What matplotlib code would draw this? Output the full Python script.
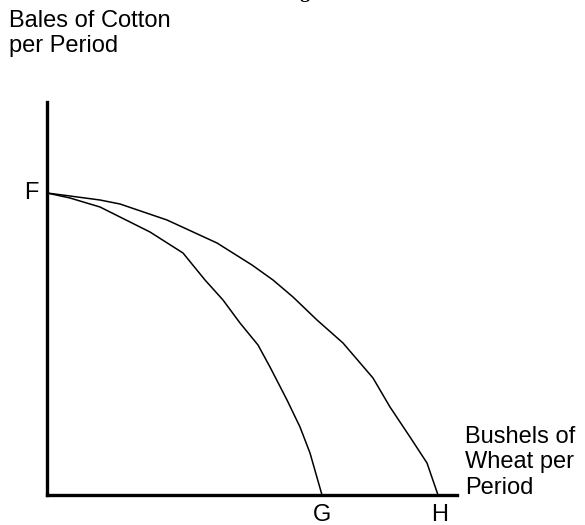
import matplotlib.pyplot as plt

plt.rcParams['font.family'] = ['Liberation Sans', 'DejaVu Sans']

# Production possibilities curves (wheat, cotton), arbitrary units
wheat_outer = [0, 23, 53, 73, 120, 170, 205, 226, 246, 270, 296, 326, 343, 363, 380, 391]
cotton_outer = [302, 299, 295, 291, 275, 252, 230, 215, 198, 175, 152, 117, 88, 58, 32, 0]

wheat_inner = [0, 23, 53, 73, 103, 136, 158, 176, 193, 211, 223, 240, 253, 263, 275]
cotton_inner = [302, 297, 288, 278, 263, 242, 215, 195, 172, 150, 128, 95, 68, 42, 0]

point_labels = ["F", "G", "H"]

fig = plt.figure(figsize=(5.85, 5.25), dpi=100)
W, H = 585, 525
ax = fig.add_axes([47 / W, 30 / H, 410 / W, 393 / H])
ax.set_xlim(0, 410)
ax.set_ylim(0, 393)

ax.plot(wheat_outer, cotton_outer, color="black", lw=1.1)
ax.plot(wheat_inner, cotton_inner, color="black", lw=1.1)

for s in ["top", "right"]:
    ax.spines[s].set_visible(False)
for s in ["left", "bottom"]:
    ax.spines[s].set_linewidth(2.4)
ax.set_xticks([])
ax.set_yticks([])

fs = 17
ax.annotate(point_labels[0], (0, cotton_outer[0]), xytext=(-11.5, 0),
            textcoords="offset points", ha="center", va="center", fontsize=fs)
ax.annotate(point_labels[1], (wheat_inner[-1], 0), xytext=(0, -6.5),
            textcoords="offset points", ha="center", va="top", fontsize=fs)
ax.annotate(point_labels[2], (wheat_outer[-1], 0), xytext=(1, -6.5),
            textcoords="offset points", ha="center", va="top", fontsize=fs)

fig.text(9 / W, 1 - 10 / H, "Bales of Cotton\nper Period", ha="left",
         va="top", fontsize=fs, linespacing=1.2)
fig.text(465 / W, 1 - 426 / H, "Bushels of\nWheat per\nPeriod", ha="left",
         va="top", fontsize=fs, linespacing=1.2)

# cut-off title at the very top
fig.text(284 / W, 1 + 2 / H, "Figure", ha="left", va="baseline",
         fontsize=14, fontweight="bold", family="Liberation Serif")

fig.savefig("out.png", dpi=100)
